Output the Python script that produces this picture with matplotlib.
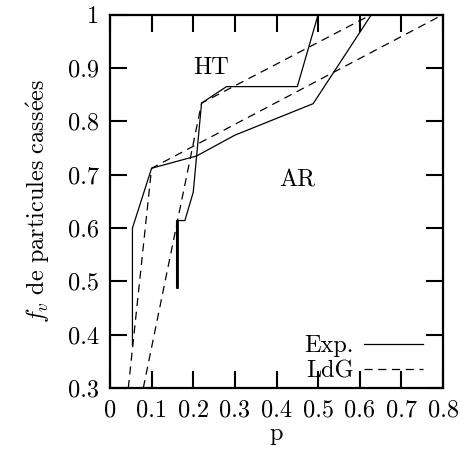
import numpy as np
import matplotlib
matplotlib.use("Agg")
import matplotlib.pyplot as plt

# Exp. (solid) curves
exp1_p = [0.054, 0.054, 0.10, 0.208, 0.30, 0.488, 0.628]
exp1_f = [0.38, 0.60, 0.712, 0.735, 0.774, 0.833, 1.0]

exp2_p = [0.16, 0.16, 0.18, 0.20, 0.22, 0.28, 0.45, 0.50]
exp2_f = [0.49, 0.614, 0.614, 0.667, 0.834, 0.865, 0.865, 1.0]

# LdG (dashed) curves
ldg1_p = [0.044, 0.10, 0.80]
ldg1_f = [0.30, 0.712, 1.0]

ldg2_p = [0.08, 0.22, 0.628]
ldg2_f = [0.30, 0.834, 1.0]

x_ticks = [0, 0.1, 0.2, 0.3, 0.4, 0.5, 0.6, 0.7, 0.8]
y_ticks = [0.3, 0.4, 0.5, 0.6, 0.7, 0.8, 0.9, 1.0]

plt.rcParams["font.family"] = ["cmr10", "DejaVu Serif"]
plt.rcParams["mathtext.fontset"] = "cm"
plt.rcParams["axes.unicode_minus"] = False

FS = 17.5

fig = plt.figure(figsize=(4.62, 4.55), dpi=100)
ax = fig.add_axes([0.238, 0.147, 0.721, 0.821])

dash = (0, (6.5, 4.5))
lw = 0.9

ax.plot(exp1_p, exp1_f, color="black", lw=lw, label="Exp.")
ax.plot(exp2_p, exp2_f, color="black", lw=lw)
# the thick vertical piece at the start of the second curve
ax.plot(exp2_p[:2], exp2_f[:2], color="black", lw=2.0)
ax.plot(ldg1_p, ldg1_f, color="black", lw=lw, linestyle=dash, label="LdG")
ax.plot(ldg2_p, ldg2_f, color="black", lw=lw, linestyle=dash)

ax.text(0.2425, 0.9, "HT", ha="center", va="center", fontsize=FS)
ax.text(0.449, 0.69, "AR", ha="center", va="center", fontsize=FS)

ax.set_xlim(0, 0.8)
ax.set_ylim(0.3, 1.0)
ax.set_xticks(x_ticks)
ax.set_yticks(y_ticks)
ax.set_xticklabels([f"{v:g}" for v in x_ticks])
ax.set_yticklabels([f"{v:g}" for v in y_ticks])
ax.tick_params(direction="in", length=12, width=1.5, top=True, right=True,
               labelsize=FS, pad=8)
for s in ax.spines.values():
    s.set_linewidth(1.6)

ax.set_xlabel("p", fontsize=FS, labelpad=1)
ax.set_ylabel(r"$f_v\ \mathrm{de\ particules\ cass\acute{e}es}$",
              fontsize=FS, labelpad=11)

ax.legend(loc="lower right", bbox_to_anchor=(0.99, -0.03), frameon=False,
          markerfirst=False, handlelength=2.4, handletextpad=0.45,
          labelspacing=0.12, fontsize=FS, borderpad=0.2)

fig.savefig("out.png", dpi=100)
